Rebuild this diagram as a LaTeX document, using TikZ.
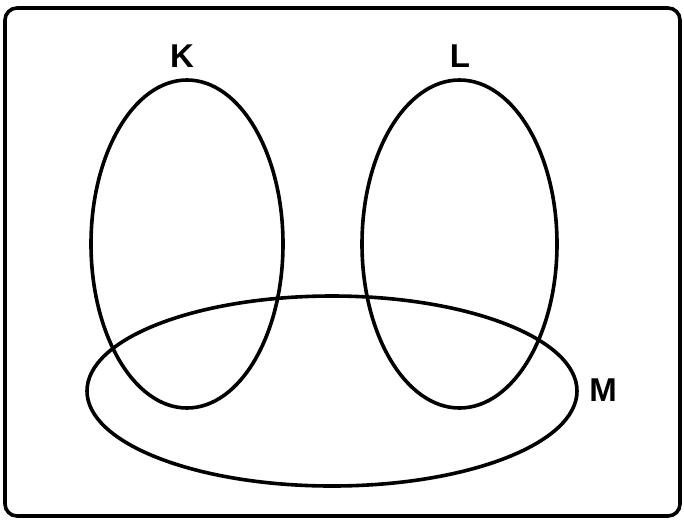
\documentclass[tikz,border=0pt]{standalone}
\usepackage{fontspec}
\setmainfont{Liberation Sans}
\begin{document}
\begin{tikzpicture}[x=1pt, y=-1pt, line width=3.6pt,
                    setlabel/.style={font=\bfseries\fontsize{33}{40}\selectfont, inner sep=0pt}]
  \useasboundingbox (0,0) rectangle (684,523);
  \draw[rounded corners=12pt] (5,8) rectangle (680,516);
  % sets
  \draw (187,244) ellipse [x radius=96, y radius=164];
  \draw (459.5,244) ellipse [x radius=97.5, y radius=164];
  \draw (332,391) ellipse [x radius=245, y radius=95];
  % labels
  \node[setlabel] (K) at (182,56) {K};
  \node[setlabel] (L) at (460,56) {L};
  \node[setlabel] (M) at (603,390) {M};
\end{tikzpicture}
\end{document}
